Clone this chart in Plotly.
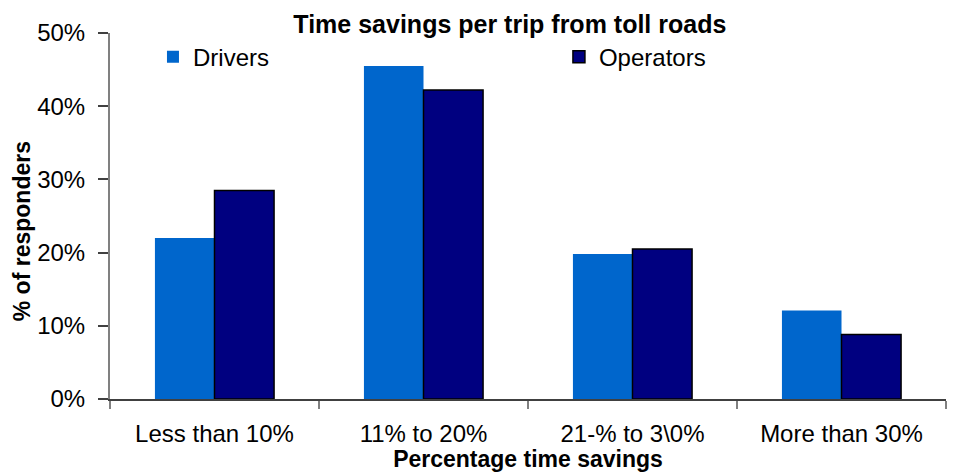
import plotly.graph_objects as go

# Survey results: share of responders by time saved per trip
categories = ["Less than 10%", "11% to 20%", "21-% to 3\\0%", "More than 30%"]
drivers = [22.0, 45.5, 19.8, 12.1]
operators = [28.5, 42.2, 20.5, 8.8]
y_ticks = [0, 10, 20, 30, 40, 50]
y_tick_labels = ["0%", "10%", "20%", "30%", "40%", "50%"]

FONT = "Liberation Sans, Arial, sans-serif"

fig = go.Figure()
fig.add_trace(go.Bar(
    name="Drivers", x=categories, y=drivers,
    marker=dict(color="#0066CC", line=dict(width=0)),
    legend="legend",
))
fig.add_trace(go.Bar(
    name="Operators", x=categories, y=operators,
    marker=dict(color="#000080", line=dict(color="#000000", width=1.5)),
    legend="legend2",
))

legend_style = dict(
    orientation="h", xanchor="left", yanchor="middle", y=0.934,
    bgcolor="rgba(0,0,0,0)", borderwidth=0,
    font=dict(family=FONT, size=24, color="#000000"),
)

fig.update_layout(
    width=953, height=472,
    margin=dict(l=110, r=7, t=33, b=73),
    paper_bgcolor="white", plot_bgcolor="white",
    font=dict(family=FONT, size=24, color="#000000"),
    barmode="group", bargap=0.43, bargroupgap=0,
    title=dict(
        text="<b>Time savings per trip from toll roads</b>",
        x=0.535, xanchor="center", xref="container",
        y=1 - 24 / 472, yanchor="middle", yref="container",
        font=dict(family=FONT, size=25, color="#000000"),
    ),
    legend=dict(x=0.0514, **legend_style),
    legend2=dict(x=0.537, **legend_style),
    showlegend=True,
    annotations=[
        dict(
            text="<b>% of responders</b>", textangle=-90,
            xref="paper", yref="paper", x=-0.105, y=0.459,
            xanchor="center", yanchor="middle", showarrow=False,
            font=dict(family=FONT, size=23, color="#000000"),
        ),
    ],
)

fig.update_xaxes(
    title=dict(text="<b>Percentage time savings</b>",
               font=dict(family=FONT, size=23, color="#000000"), standoff=3),
    automargin=False,
    showline=True, linecolor="#404040", linewidth=2,
    ticks="outside", tickson="boundaries", ticklen=8, tickcolor="#808080", tickwidth=2,
    showgrid=False, zeroline=False,
    tickfont=dict(family=FONT, size=24, color="#000000"),
    ticklabelstandoff=12,
)
fig.update_yaxes(
    range=[0, 50], tickvals=y_ticks, ticktext=y_tick_labels,
    automargin=False,
    showline=True, linecolor="#808080", linewidth=2,
    ticks="outside", ticklen=10, tickcolor="#404040", tickwidth=2,
    showgrid=False, zeroline=False,
    tickfont=dict(family=FONT, size=24, color="#000000"),
    ticklabelstandoff=8,
)

fig.write_html("out.html")
